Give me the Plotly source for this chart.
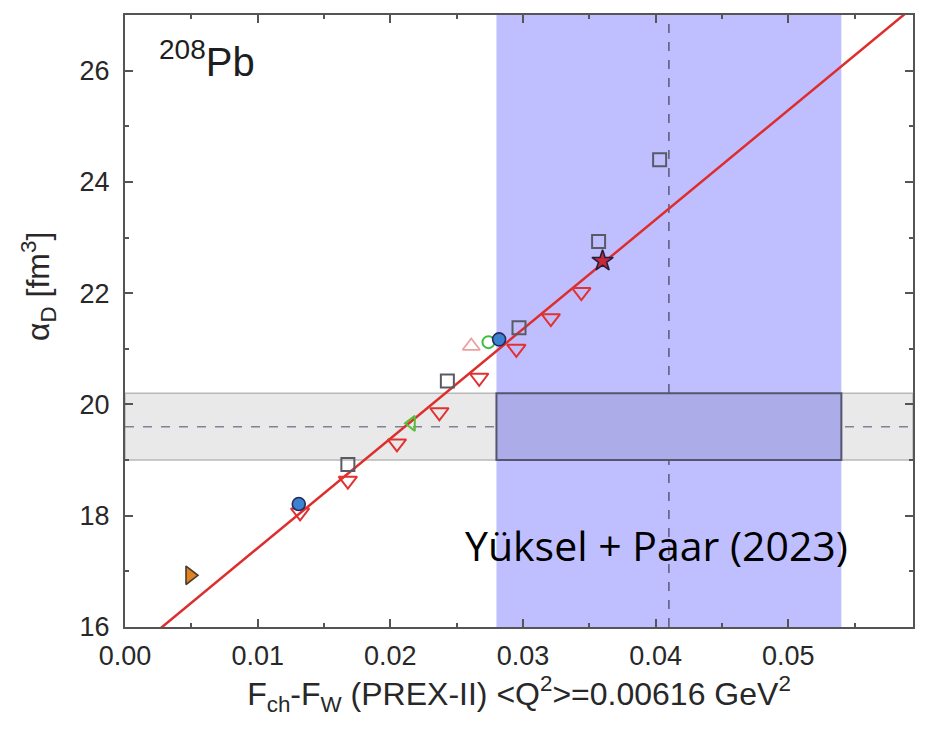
import plotly.graph_objects as go

# ---- data ----
fit_x = [0.0, 0.0594]
fit_y = [15.45, 27.14]

square_x = [0.0168, 0.0243, 0.0297, 0.0357, 0.0403]
square_y = [18.92, 20.42, 21.38, 22.93, 24.40]

tridown_x = [0.0132, 0.0168, 0.0205, 0.0237, 0.0267, 0.0295, 0.0321, 0.0344]
tridown_y = [18.06, 18.63, 19.30, 19.86, 20.48, 21.00, 21.55, 22.02]

orange_x = [0.0049]
orange_y = [16.93]

bluecirc_x = [0.0131, 0.0282]
bluecirc_y = [18.21, 21.17]

greenleft_x = [0.0216]
greenleft_y = [19.66]

greencirc_x = [0.0274]
greencirc_y = [21.12]

pinkup_x = [0.0261]
pinkup_y = [21.05]

star_x = [0.0360]
star_y = [22.58]

band_x = [0.028, 0.054]      # PREX-II band
band_center_x = 0.041
exp_y = [19.0, 20.2]         # experimental alpha_D band
exp_center_y = 19.6

x_ticks = [0.00, 0.01, 0.02, 0.03, 0.04, 0.05]
x_ticklabels = ["0.00", "0.01", "0.02", "0.03", "0.04", "0.05"]
y_ticks = [16, 18, 20, 22, 24, 26]

FONT = "Liberation Sans, Arial"
TXT = "rgb(40,40,40)"
AX = "rgb(85,85,85)"

fig = go.Figure()

fig.add_trace(go.Scatter(x=fit_x, y=fit_y, mode="lines",
                         line=dict(color="rgb(222,45,45)", width=2.5), hoverinfo="skip"))

def mk(x, y, symbol, size, color, lcolor, lw=1.6):
    fig.add_trace(go.Scatter(x=x, y=y, mode="markers",
                             marker=dict(symbol=symbol, size=size, color=color,
                                         line=dict(color=lcolor, width=lw))))

mk(tridown_x, tridown_y, "triangle-down-open", 16, "rgb(225,50,50)", "rgb(225,50,50)", 2)
mk(square_x, square_y, "square-open", 13, "rgb(90,90,100)", "rgb(90,90,100)", 2)
mk(pinkup_x, pinkup_y, "triangle-up-open", 15, "rgb(235,160,160)", "rgb(235,160,160)", 1.8)
mk(greencirc_x, greencirc_y, "circle-open", 12, "rgb(60,190,60)", "rgb(60,190,60)", 2)
mk(greenleft_x, greenleft_y, "triangle-left-open", 13, "rgb(90,190,60)", "rgb(90,190,60)", 2)
mk(bluecirc_x, bluecirc_y, "circle", 13, "rgb(60,130,210)", "rgb(40,40,90)", 1.6)
mk(orange_x, orange_y, "triangle-right", 16, "rgb(225,130,30)", "rgb(70,60,50)", 1.6)
mk(star_x, star_y, "star", 16, "rgb(200,40,60)", "rgb(40,30,60)", 1.6)

shapes = [
    dict(type="rect", xref="paper", yref="y", x0=0, x1=1, y0=exp_y[0], y1=exp_y[1],
         fillcolor="rgb(233,233,233)", line=dict(color="rgb(185,185,185)", width=1.5), layer="below"),
    dict(type="rect", xref="x", yref="paper", x0=band_x[0], x1=band_x[1], y0=0, y1=1,
         fillcolor="rgb(191,191,255)", line=dict(width=0), layer="below"),
    dict(type="rect", xref="x", yref="y", x0=band_x[0], x1=band_x[1], y0=exp_y[0], y1=exp_y[1],
         fillcolor="rgb(172,172,232)", line=dict(color="rgb(85,85,110)", width=2), layer="below"),
    dict(type="line", xref="paper", yref="y", x0=0, x1=1, y0=exp_center_y, y1=exp_center_y,
         line=dict(color="rgb(130,130,150)", width=1.5, dash="dash"), layer="below"),
    dict(type="line", xref="x", yref="paper", x0=band_center_x, x1=band_center_x, y0=0, y1=1,
         line=dict(color="rgb(90,90,120)", width=1.5, dash="dash"), layer="below"),
]

axis_common = dict(showline=True, linecolor=AX, linewidth=2, mirror="allticks",
                   ticks="inside", ticklen=8, tickwidth=2, tickcolor=AX,
                   showgrid=False, zeroline=False,
                   tickfont=dict(family=FONT, size=27, color=TXT))

fig.update_layout(
    width=925, height=729,
    margin=dict(l=125, r=10, t=15, b=102),
    paper_bgcolor="white", plot_bgcolor="white",
    showlegend=False,
    shapes=shapes,
    xaxis=dict(range=[0, 0.0594], tickvals=x_ticks, ticktext=x_ticklabels,
               ticklabelstandoff=4,
               minor=dict(dtick=0.005, ticks="inside", ticklen=4, tickwidth=2, tickcolor=AX),
               title=dict(text="F<sub>ch</sub>-F<sub>W</sub> (PREX-II) &lt;Q<sup>2</sup>&gt;=0.00616 GeV<sup>2</sup>",
                          font=dict(family=FONT, size=32, color=TXT),
                          standoff=6),
               **axis_common),
    yaxis=dict(range=[16, 27], tickvals=y_ticks, ticklabelstandoff=8,
               minor=dict(dtick=1, ticks="inside", ticklen=4, tickwidth=2, tickcolor=AX),
               **axis_common),
    annotations=[
        dict(text="α<sub>D</sub> [fm<sup>3</sup>]", xref="paper", yref="paper", x=-0.11, y=0.556,
             textangle=-90, showarrow=False, xanchor="center", yanchor="middle",
             font=dict(family=FONT, size=32, color=TXT)),
        dict(text="<sup>208</sup>Pb", xref="paper", yref="paper", x=0.04, y=0.972,
             showarrow=False, xanchor="left", yanchor="top",
             font=dict(family=FONT, size=40, color="rgb(30,30,30)")),
        dict(text="Yüksel + Paar (2023)", xref="paper", yref="paper", x=0.675, y=0.134,
             showarrow=False, xanchor="center", yanchor="middle",
             font=dict(family="Open Sans", size=41, color="black")),
    ],
)

fig.write_html("out.html")
